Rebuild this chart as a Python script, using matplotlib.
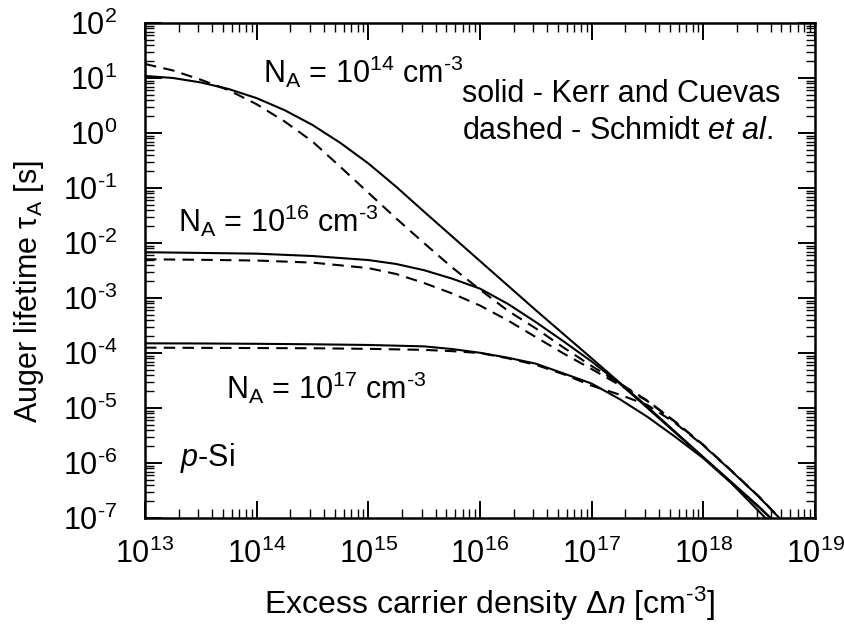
import numpy as np
import matplotlib
matplotlib.use('Agg')
from matplotlib import pyplot as plt
from matplotlib.ticker import LogLocator, NullFormatter, FuncFormatter

plt.rcParams['font.family'] = 'Liberation Sans'
plt.rcParams['mathtext.fontset'] = 'custom'
plt.rcParams['mathtext.rm'] = 'Liberation Sans'
plt.rcParams['mathtext.it'] = 'Liberation Sans:italic'
plt.rcParams['mathtext.bf'] = 'Liberation Sans:bold'
plt.rcParams['axes.unicode_minus'] = False

# Data: excess carrier density [cm^-3] and Auger lifetime [s]

# Kerr and Cuevas (solid)
kc14_dn = [1e13, 1.78e13, 3.16e13, 5.62e13, 1e14, 1.78e14, 3.16e14, 5.62e14, 1e15, 1.78e15, 3.16e15,
           1e16, 3.16e16, 1e17, 3.16e17, 1e18, 3.16e18, 4.0e18]
kc14_tau = [10.9, 10.0, 8.3, 6.3, 4.3, 2.6, 1.4, 0.66, 0.28, 0.105, 0.037,
            4.7e-3, 6.0e-4, 8.0e-5, 1.05e-5, 1.28e-6, 1.6e-7, 1e-7]

kc16_dn = [1e13, 3.16e13, 1e14, 3.16e14, 1e15, 1.78e15, 3.16e15, 5.62e15, 1e16, 1.78e16, 3.16e16,
           5.62e16, 1e17, 1.78e17, 3.16e17, 1e18, 3.16e18, 4.0e18]
kc16_tau = [6.8e-3, 6.6e-3, 6.4e-3, 5.8e-3, 4.9e-3, 4.15e-3, 3.2e-3, 2.25e-3, 1.48e-3, 7.8e-4, 3.65e-4,
            1.62e-4, 7.0e-5, 2.79e-5, 1.0e-5, 1.25e-6, 1.55e-7, 1e-7]

kc17_dn = [1e13, 3.16e13, 1e14, 3.16e14, 1e15, 3.16e15, 5.62e15, 1e16, 1.78e16, 3.16e16, 5.62e16,
           1e17, 1.78e17, 3.16e17, 5.62e17, 1e18, 1.78e18, 3.6e18]
kc17_tau = [1.5e-4, 1.49e-4, 1.47e-4, 1.44e-4, 1.40e-4, 1.32e-4, 1.18e-4, 1.01e-4, 8.2e-5, 6.4e-5, 4.24e-5,
            2.78e-5, 1.45e-5, 6.9e-6, 2.97e-6, 1.22e-6, 4.3e-7, 1e-7]

# Schmidt et al. (dashed)
sch14_dn = [1e13, 1.78e13, 3.16e13, 5.62e13, 1e14, 1.78e14, 3.16e14, 5.62e14, 1e15, 1.78e15, 3.16e15,
            5.62e15, 1e16, 1.78e16, 3.16e16, 5.62e16, 1e17, 1.78e17, 3.16e17, 5.62e17, 1e18, 1.78e18,
            3.16e18, 4.8e18]
sch14_tau = [18.0, 13.7, 9.3, 6.0, 3.33, 1.62, 0.70, 0.242, 0.082, 0.0279, 9.9e-3,
             3.6e-3, 1.42e-3, 5.85e-4, 2.8e-4, 1.25e-4, 5.8e-5, 2.81e-5, 1.36e-5, 5.6e-6, 2.14e-6, 7.3e-7,
             2.45e-7, 1e-7]

sch16_dn = [1e13, 3.16e13, 1e14, 3.16e14, 1e15, 1.78e15, 3.16e15, 5.62e15, 1e16, 1.78e16, 3.16e16,
            5.62e16, 1e17, 1.78e17, 3.16e17, 5.62e17, 1e18, 1.78e18, 3.16e18, 4.8e18]
sch16_tau = [5.06e-3, 4.95e-3, 4.8e-3, 4.4e-3, 3.5e-3, 2.73e-3, 1.87e-3, 1.21e-3, 7.3e-4, 3.9e-4, 1.95e-4,
             9.75e-5, 5.1e-5, 2.62e-5, 1.33e-5, 5.55e-6, 2.1e-6, 7.2e-7, 2.4e-7, 1e-7]

sch17_dn = [1e13, 3.16e13, 1e14, 3.16e14, 1e15, 3.16e15, 5.62e15, 1e16, 1.78e16, 3.16e16, 5.62e16,
            1e17, 1.78e17, 3.16e17, 5.62e17, 1e18, 1.78e18, 3.16e18, 4.8e18]
sch17_tau = [1.25e-4, 1.24e-4, 1.23e-4, 1.22e-4, 1.19e-4, 1.14e-4, 1.08e-4, 1.0e-4, 8.0e-5, 6.1e-5, 4.1e-5,
             2.55e-5, 1.75e-5, 1.13e-5, 5.3e-6, 2.08e-6, 7.2e-7, 2.4e-7, 1e-7]


def decade_label(v, pos):
    return r'10$^{\text{%d}}$' % int(round(np.log10(v)))


fig = plt.figure(figsize=(8.45, 6.28), dpi=100)
ax = fig.add_axes([145 / 845, 1 - 518 / 628, 670 / 845, 495 / 628])

for dn, tau in [(kc14_dn, kc14_tau), (kc16_dn, kc16_tau), (kc17_dn, kc17_tau)]:
    ax.plot(dn, tau, color='black', lw=1.5, solid_joinstyle='round')

for dn, tau in [(sch14_dn, sch14_tau), (sch16_dn, sch16_tau), (sch17_dn, sch17_tau)]:
    ax.plot(dn, tau, color='black', lw=1.5, ls='--', dashes=(5.5, 3.5))

ax.set_xscale('log')
ax.set_yscale('log')
ax.set_xlim(1e13, 1e19)
ax.set_ylim(1e-7, 1e2)

ax.xaxis.set_major_locator(LogLocator(base=10, numticks=20))
ax.yaxis.set_major_locator(LogLocator(base=10, numticks=20))
ax.xaxis.set_minor_locator(LogLocator(base=10, subs=np.arange(2, 10), numticks=100))
ax.yaxis.set_minor_locator(LogLocator(base=10, subs=np.arange(2, 10), numticks=100))
ax.xaxis.set_major_formatter(FuncFormatter(decade_label))
ax.yaxis.set_major_formatter(FuncFormatter(decade_label))
ax.xaxis.set_minor_formatter(NullFormatter())
ax.yaxis.set_minor_formatter(NullFormatter())

ax.tick_params(which='both', direction='in', top=True, right=True, labelsize=22)
ax.tick_params(which='major', length=12, width=1.4)
ax.tick_params(which='minor', length=6.5, width=1.0)
ax.tick_params(axis='x', which='major', pad=15)
ax.tick_params(axis='y', which='major', pad=20)
for s in ax.spines.values():
    s.set_linewidth(1.8)

fs = 22
ax.text(0.176, 0.879, r'N$_\mathregular{A}$ = 10$^{14}$ cm$^{\text{-3}}$', transform=ax.transAxes, fontsize=fs, va='baseline')
ax.text(0.049, 0.578, r'N$_\mathregular{A}$ = 10$^{16}$ cm$^{\text{-3}}$', transform=ax.transAxes, fontsize=fs, va='baseline')
ax.text(0.121, 0.240, r'N$_\mathregular{A}$ = 10$^{17}$ cm$^{\text{-3}}$', transform=ax.transAxes, fontsize=fs, va='baseline')
ax.text(0.052, 0.105, r'$\mathit{p}$-Si', transform=ax.transAxes, fontsize=fs, va='baseline')
ax.text(0.473, 0.841, 'solid - Kerr and Cuevas', transform=ax.transAxes, fontsize=fs, va='baseline')
ax.text(0.473, 0.766, r'dashed - Schmidt $\mathit{et\ al.}$', transform=ax.transAxes, fontsize=fs, va='baseline')

fig.text(490 / 845, 1 - 614 / 628, r'Excess carrier density $\mathit{\Delta n}$ [cm$^{\text{-3}}$]',
         fontsize=23, ha='center', va='baseline')
fig.text(29 / 845, 1 - 292 / 628, r'Auger lifetime τ$_\mathregular{A}$ [s]', fontsize=fs,
         rotation=90, ha='center', va='center')

plt.savefig('out.png', dpi=100)
